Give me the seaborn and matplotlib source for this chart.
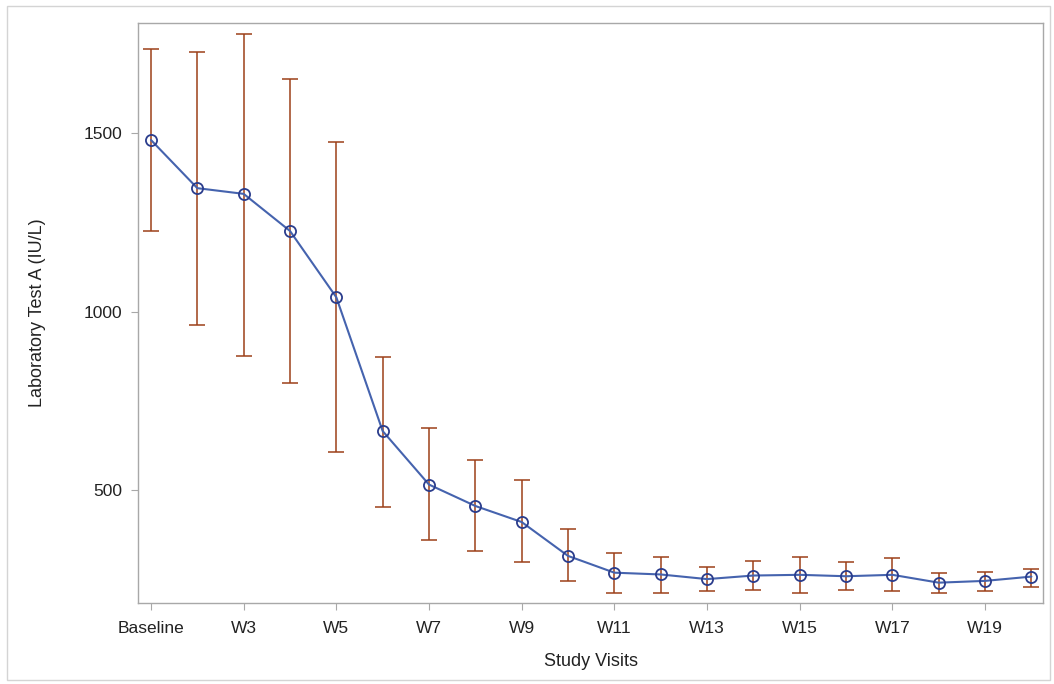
import matplotlib
matplotlib.use("Agg")
import matplotlib.pyplot as plt
import seaborn as sns
import pandas as pd
from matplotlib.patches import Rectangle

visits = ["Baseline"] + [f"W{i}" for i in range(2, 21)]
mean_vals = [1481, 1346, 1330, 1226, 1040, 665, 515, 455, 410, 315,
             268, 263, 250, 260, 262, 258, 262, 240, 245, 257]
upper_vals = [1735, 1727, 1778, 1651, 1476, 874, 675, 583, 528, 390,
              322, 313, 283, 300, 312, 297, 308, 268, 271, 278]
lower_vals = [1226, 963, 876, 800, 605, 452, 360, 328, 297, 245,
              212, 212, 216, 220, 212, 220, 218, 212, 217, 229]
tick_labels = ["Baseline", "W3", "W5", "W7", "W9", "W11", "W13", "W15", "W17", "W19"]

df = pd.DataFrame({"visit": visits, "mean": mean_vals,
                   "upper": upper_vals, "lower": lower_vals})

sns.set_theme(style="white")
plt.rcParams["font.family"] = ["Liberation Sans", "DejaVu Sans"]

fig = plt.figure(figsize=(10.54, 6.84), dpi=100)
ax = fig.add_axes([138/1054, 1 - 603/684, (1043-138)/1054, (603-23)/684])

err_color = "#9C4019"
line_color = "#4563AE"
mk_color = "#2A3C8C"

yerr = [df["mean"] - df["lower"], df["upper"] - df["mean"]]
ax.errorbar(df["visit"], df["mean"], yerr=yerr, fmt="none", ecolor=err_color,
            elinewidth=1.1, capsize=5.5, capthick=1.1, zorder=2)
sns.lineplot(data=df, x="visit", y="mean", ax=ax, color=line_color, linewidth=1.5,
             marker="o", markersize=8, markerfacecolor="none",
             markeredgecolor=mk_color, markeredgewidth=1.3, zorder=3, sort=False)

ax.set_xlim(-0.28, 19.25)
ax.set_ylim(183, 1809)
ax.set_yticks([500, 1000, 1500])
ax.set_yticklabels(["500", "1000", "1500"])
ax.set_xticks(list(range(0, 20, 2)))
ax.set_xticklabels(tick_labels)

for s in ax.spines.values():
    s.set_color("#A8A8A8")
    s.set_linewidth(1.0)
ax.tick_params(axis="both", which="both", direction="out", length=5, width=0.8,
               color="#A8A8A8", labelsize=12.5, labelcolor="#222222",
               bottom=True, left=True, top=False, right=False)
ax.tick_params(axis="x", pad=8)
ax.tick_params(axis="y", pad=6)
ax.set_xlabel("Study Visits", fontsize=13, color="#222222", labelpad=12)
ax.set_ylabel("Laboratory Test A (IU/L)", fontsize=13, color="#222222", labelpad=27)

fig.patches.append(Rectangle((7/1054, 4/684), (1050-7)/1054, (680-6)/684,
                             transform=fig.transFigure, fill=False,
                             edgecolor="#D4D4D4", linewidth=1.0))

fig.savefig("out.png", dpi=100)
